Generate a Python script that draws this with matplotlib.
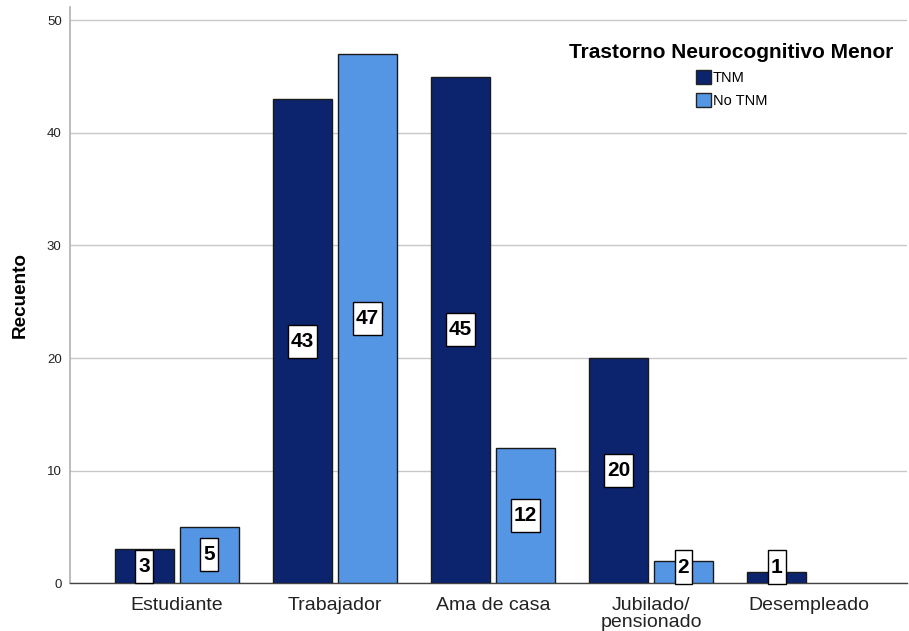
import numpy as np
import matplotlib
matplotlib.use('Agg')
import matplotlib.pyplot as plt
from matplotlib.patches import Patch
from matplotlib.path import Path

plt.rcParams['font.family'] = ['Liberation Sans', 'DejaVu Sans']

# Data
categories = ['Estudiante', 'Trabajador', 'Ama de casa', 'Jubilado/\npensionado', 'Desempleado']
tnm = [3, 43, 45, 20, 1]
no_tnm = [5, 47, 12, 2, 0]
series_names = ['TNM', 'No TNM']
legend_title = 'Trastorno Neurocognitivo Menor'
y_ticks = [0, 10, 20, 30, 40, 50]

dark = '#0c246e'
light = '#5596e4'


def label_box(x0, y0, width, height, mutation_size):
    # narrow horizontal padding, taller vertical padding (SPSS-style data labels)
    px = 0.15 * mutation_size
    py = 0.34 * mutation_size
    x0, y0 = x0 - px, y0 - py
    x1, y1 = x0 + width + 2 * px, y0 + height + 2 * py
    return Path([(x0, y0), (x1, y0), (x1, y1), (x0, y1), (x0, y0)], closed=True)


fig = plt.figure(figsize=(9.09, 6.31), dpi=100)
ax = fig.add_axes([0.077, 0.076, 0.921, 0.913])

x = np.arange(len(categories))
width = 0.372
offset = 0.205


def draw_bars(xpos, values, color):
    for xi, v in zip(xpos, values):
        if v == 0:
            continue
        ax.bar(xi, v, width, color=color, edgecolor='#1a1a1a', linewidth=1.0, zorder=3)
        ax.text(xi, max(v / 2, 1.42), str(v), ha='center', va='center',
                fontsize=15, fontweight='bold', color='black', zorder=4,
                bbox=dict(boxstyle=label_box, facecolor='white',
                          edgecolor='black', linewidth=1.0))


draw_bars(x - offset, tnm, dark)
draw_bars(x + offset, no_tnm, light)

ax.set_xlim(-0.675, 4.62)
ax.set_ylim(0, 51.2)
ax.set_yticks(y_ticks)
ax.set_yticklabels([str(t) for t in y_ticks], fontsize=9.5, color='#222222')
ax.set_xticks(x)
ax.set_xticklabels(categories, fontsize=14, color='#222222', linespacing=1.0)
ax.tick_params(axis='both', length=0)
ax.tick_params(axis='y', pad=6)
ax.tick_params(axis='x', pad=10)

ax.yaxis.grid(True, color='#c8c8c8', linewidth=1.0, zorder=0)
ax.set_axisbelow(True)

for s in ['top', 'right']:
    ax.spines[s].set_visible(False)
ax.spines['left'].set_color('#b0b0b0')
ax.spines['left'].set_linewidth(1.2)
ax.spines['bottom'].set_color('#444444')
ax.spines['bottom'].set_linewidth(1.0)

ax.set_ylabel('Recuento', fontsize=13.6, fontweight='bold', labelpad=13)

handles = [Patch(facecolor=dark, edgecolor='#222222', linewidth=1.0),
           Patch(facecolor=light, edgecolor='#222222', linewidth=1.0)]
leg = ax.legend(handles, series_names, title=legend_title, loc='upper center',
                bbox_to_anchor=(0.79, 0.948), frameon=False, fontsize=10.5,
                handlelength=1.05, handleheight=1.05, handletextpad=0.12,
                labelspacing=0.58, borderaxespad=0)
leg.get_title().set_fontsize(15)
leg.get_title().set_fontweight('bold')

fig.savefig('out.png', dpi=100)
